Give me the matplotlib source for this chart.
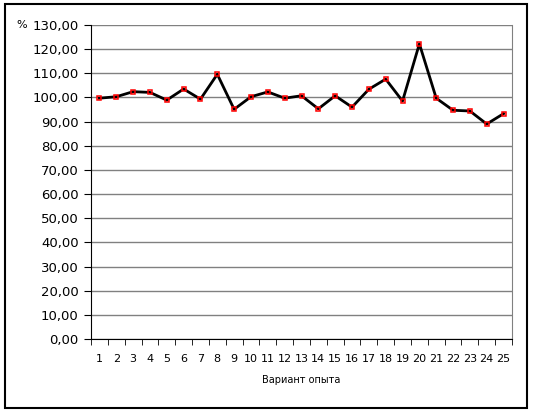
import matplotlib
matplotlib.use('Agg')
import matplotlib.pyplot as plt
from matplotlib.patches import Rectangle
import numpy as np

W, H, DPI = 534, 413, 100

variants = list(range(1, 26))
values = [99.7, 100.3, 102.4, 102.1, 98.9, 103.5, 99.3, 109.6, 95.1, 100.3,
          102.3, 99.7, 100.7, 95.3, 100.7, 96.0, 103.4, 107.6, 98.5, 122.2,
          99.7, 94.7, 94.4, 89.0, 93.3]
y_ticks = np.arange(0, 131, 10)
y_labels = [f"{v:.2f}".replace('.', ',') for v in y_ticks]

fig = plt.figure(figsize=(W / DPI, H / DPI), dpi=DPI)
ax = fig.add_axes([91 / W, 1 - 339 / H, (512 - 91) / W, (339 - 25) / H])

x = np.arange(len(variants))
ax.plot(x, values, color='black', lw=2, zorder=3)
ax.plot(x, values, ls='none', marker='s', ms=3.5, mfc='none', mec='red', mew=1.1, zorder=4)

ax.set_xlim(-0.5, len(variants) - 0.5)
ax.set_ylim(0, 130)
ax.set_yticks(y_ticks)
ax.set_yticklabels(y_labels, fontsize=9.5)
ax.set_xticks(x)
ax.set_xticklabels([str(v) for v in variants], fontsize=8)
ax.set_xticks(np.arange(-0.5, len(variants), 1), minor=True)
ax.tick_params(axis='x', which='major', length=0, pad=11)
ax.tick_params(axis='x', which='minor', length=4, direction='out', color='black')
ax.tick_params(axis='y', length=5, direction='out', color='black', pad=4)
ax.grid(axis='y', color='#808080', lw=1)
ax.set_axisbelow(True)

ax.spines['top'].set_visible(False)
ax.spines['right'].set_color('#808080')
ax.spines['left'].set_color('black')
ax.spines['bottom'].set_color('black')

ax.set_xlabel('Вариант опыта', fontsize=7, labelpad=8)
fig.text(22 / W, 1 - 25 / H, '%', fontsize=8, ha='center', va='center')

fig.patches.append(Rectangle((5 / W, 1 - 408 / H), (527 - 5) / W, (408 - 4) / H,
                             transform=fig.transFigure, fill=False, ec='black', lw=1.5))

fig.savefig('out.png', dpi=DPI)
